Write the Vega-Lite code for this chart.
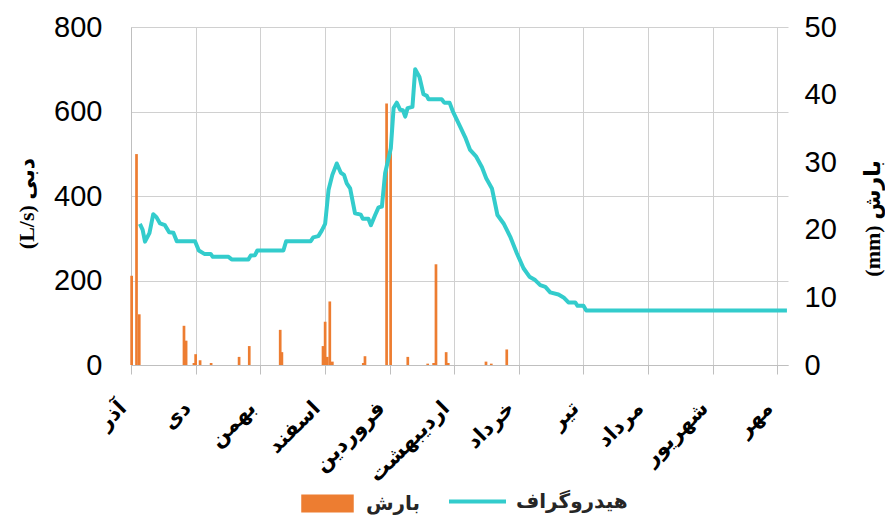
{
  "$schema": "https://vega.github.io/schema/vega-lite/v6.json",
  "width": 657,
  "height": 338,
  "autosize": {"type": "none"},
  "padding": {"left": 131, "top": 27, "right": 97, "bottom": 152},
  "background": "white",
  "config": {"view": {"stroke": null}},
  "datasets": {
    "flow": [
      {"day": 4.2, "q": 334}, {"day": 5.5, "q": 320}, {"day": 6.6, "q": 292}, {"day": 8.7, "q": 312},
      {"day": 10.5, "q": 357}, {"day": 12, "q": 350}, {"day": 13.7, "q": 335}, {"day": 16, "q": 331},
      {"day": 18, "q": 314}, {"day": 20, "q": 313}, {"day": 21.6, "q": 293}, {"day": 30.2, "q": 293},
      {"day": 32, "q": 271}, {"day": 34.6, "q": 263}, {"day": 37.6, "q": 263}, {"day": 38.6, "q": 256},
      {"day": 46, "q": 256}, {"day": 47.5, "q": 250}, {"day": 55.4, "q": 250}, {"day": 56.5, "q": 259},
      {"day": 58.5, "q": 260}, {"day": 59.6, "q": 271}, {"day": 71.9, "q": 271}, {"day": 73.2, "q": 293},
      {"day": 84.8, "q": 293}, {"day": 86, "q": 302}, {"day": 88.4, "q": 305}, {"day": 90, "q": 318},
      {"day": 91.6, "q": 334}, {"day": 93.2, "q": 414}, {"day": 95, "q": 450}, {"day": 97.1, "q": 477},
      {"day": 99, "q": 455}, {"day": 100.5, "q": 450}, {"day": 101.8, "q": 430}, {"day": 103.4, "q": 418},
      {"day": 105.7, "q": 359}, {"day": 108.4, "q": 356}, {"day": 109.4, "q": 346}, {"day": 112, "q": 346},
      {"day": 113.2, "q": 331}, {"day": 115.2, "q": 355}, {"day": 116.8, "q": 373}, {"day": 118.4, "q": 375},
      {"day": 119.9, "q": 454}, {"day": 122.6, "q": 513}, {"day": 123.9, "q": 608}, {"day": 125.4, "q": 621},
      {"day": 127, "q": 604}, {"day": 128.3, "q": 603}, {"day": 129.4, "q": 588}, {"day": 130.5, "q": 608},
      {"day": 132.8, "q": 611}, {"day": 134.1, "q": 700}, {"day": 136.1, "q": 682}, {"day": 138, "q": 641},
      {"day": 139.6, "q": 637}, {"day": 140.4, "q": 629}, {"day": 146.6, "q": 629}, {"day": 147.8, "q": 621},
      {"day": 150.3, "q": 621}, {"day": 151.8, "q": 601}, {"day": 155.3, "q": 564}, {"day": 157.7, "q": 539},
      {"day": 160, "q": 509}, {"day": 162.9, "q": 493}, {"day": 165.6, "q": 468}, {"day": 167.6, "q": 442},
      {"day": 170.3, "q": 418}, {"day": 172.9, "q": 355}, {"day": 175.8, "q": 335}, {"day": 178.9, "q": 304},
      {"day": 182.1, "q": 264}, {"day": 185.2, "q": 229}, {"day": 188, "q": 209}, {"day": 190.7, "q": 201},
      {"day": 193.1, "q": 189}, {"day": 195.5, "q": 185}, {"day": 197.8, "q": 172}, {"day": 201.7, "q": 167},
      {"day": 204.1, "q": 160}, {"day": 206.4, "q": 148}, {"day": 209.6, "q": 148}, {"day": 210.7, "q": 140},
      {"day": 213.5, "q": 140}, {"day": 214.8, "q": 129}, {"day": 240, "q": 129}, {"day": 270, "q": 129},
      {"day": 309.5, "q": 129}
    ],
    "rain": [
      {"day": 0.3, "mm": 13.2}, {"day": 2.6, "mm": 31.2}, {"day": 3.9, "mm": 7.5}, {"day": 25, "mm": 5.8},
      {"day": 26, "mm": 3.6}, {"day": 29.7, "mm": 0.3}, {"day": 30.5, "mm": 1.6}, {"day": 32.6, "mm": 0.7},
      {"day": 37.8, "mm": 0.3}, {"day": 51, "mm": 1.2}, {"day": 55.8, "mm": 2.8}, {"day": 70.4, "mm": 5.2},
      {"day": 71.2, "mm": 1.9}, {"day": 90.6, "mm": 2.8}, {"day": 91.6, "mm": 6.4}, {"day": 92.6, "mm": 1.2},
      {"day": 93.8, "mm": 9.4}, {"day": 95, "mm": 0.5}, {"day": 109.6, "mm": 0.3}, {"day": 110.4, "mm": 1.3},
      {"day": 120.6, "mm": 38.7}, {"day": 122.5, "mm": 32}, {"day": 130.6, "mm": 1.2}, {"day": 140, "mm": 0.2},
      {"day": 142.8, "mm": 0.3}, {"day": 143.9, "mm": 14.9}, {"day": 148.7, "mm": 1.9}, {"day": 149.7, "mm": 0.3},
      {"day": 167.5, "mm": 0.5}, {"day": 170, "mm": 0.2}, {"day": 177.3, "mm": 2.3}
    ]
  },
  "encoding": {
    "x": {
      "field": "day",
      "type": "quantitative",
      "scale": {"domain": [0, 310], "nice": false, "zero": false, "padding": 0},
      "axis": {
        "values": [0, 30.5, 61, 91.5, 122, 152.5, 183, 213.5, 244, 274.5, 305],
        "labelExpr": "['آذر','دی','بهمن','اسفند','فروردین','اردیبهشت','خرداد','تیر','مرداد','شهریور','مهر'][round(datum.value/30.5)]",
        "labelAngle": -45,
        "labelFont": "DejaVu Sans",
        "labelFontWeight": "bold",
        "labelFontSize": 21,
        "labelColor": "black",
        "labelPadding": 23,
        "labelOffset": -16,
        "labelOverlap": false,
        "labelBound": false,
        "labelFlush": false,
        "grid": true,
        "gridColor": "#D0D0D0",
        "gridWidth": 1,
        "domainColor": "#BFBFBF",
        "tickColor": "#BFBFBF",
        "tickSize": 9,
        "title": null
      }
    }
  },
  "layer": [
    {
      "data": {"name": "rain"},
      "mark": {"type": "bar", "orient": "vertical", "size": 2.7},
      "encoding": {
        "y": {
          "field": "mm",
          "type": "quantitative",
          "scale": {"domain": [0, 50], "nice": false},
          "axis": {
            "orient": "right",
            "values": [0, 10, 20, 30, 40, 50],
            "grid": false,
            "ticks": false,
            "domain": false,
            "labelFont": "Liberation Sans",
            "labelFontSize": 29,
            "labelColor": "black",
            "labelPadding": 16,
            "title": "(mm) بارش",
            "titleFont": "Liberation Serif, DejaVu Sans",
            "titleFontSize": 22,
            "titleFontWeight": "bold",
            "titleColor": "black",
            "titleAngle": -90,
            "titleAlign": "center",
            "titleBaseline": "middle",
            "titleX": 84,
            "titleY": 191
          }
        },
        "fill": {
          "datum": "بارش",
          "type": "nominal",
          "scale": {"range": ["#ED7D31"]},
          "legend": {
            "orient": "none",
            "legendX": 170,
            "legendY": 450,
            "title": null,
            "padding": 0,
            "symbolType": "M-1,-0.34H1V0.34H-1Z",
            "symbolSize": 2756,
            "symbolStrokeWidth": 0,
            "symbolOpacity": 1,
            "labelFont": "DejaVu Sans",
            "labelFontWeight": "bold",
            "labelFontSize": 20,
            "labelColor": "#262626",
            "labelOffset": 12
          }
        }
      }
    },
    {
      "data": {"name": "flow"},
      "mark": {"type": "line", "strokeWidth": 4, "strokeJoin": "round", "strokeCap": "butt"},
      "encoding": {
        "y": {
          "field": "q",
          "type": "quantitative",
          "scale": {"domain": [0, 800], "nice": false},
          "axis": {
            "orient": "left",
            "values": [0, 200, 400, 600, 800],
            "grid": true,
            "gridColor": "#D0D0D0",
            "ticks": false,
            "domain": true,
            "domainColor": "#BFBFBF",
            "labelFont": "Liberation Sans",
            "labelFontSize": 29,
            "labelColor": "black",
            "labelPadding": 29,
            "title": "(L/s) دبی",
            "titleFont": "Liberation Serif, DejaVu Sans",
            "titleFontSize": 22,
            "titleFontWeight": "bold",
            "titleColor": "black",
            "titleAngle": -90,
            "titleAlign": "center",
            "titleBaseline": "middle",
            "titleX": -105,
            "titleY": 176
          }
        },
        "stroke": {
          "datum": "هیدروگراف",
          "type": "nominal",
          "scale": {"range": ["#33CCCC"]},
          "legend": {
            "orient": "none",
            "legendX": 316,
            "legendY": 444,
            "title": null,
            "padding": 0,
            "symbolType": "stroke",
            "symbolSize": 3249,
            "symbolStrokeWidth": 4,
            "labelFont": "DejaVu Sans",
            "labelFontWeight": "bold",
            "labelFontSize": 20,
            "labelColor": "#262626",
            "labelOffset": 8
          }
        }
      }
    }
  ],
  "resolve": {"scale": {"y": "independent", "fill": "independent", "stroke": "independent"}}
}
